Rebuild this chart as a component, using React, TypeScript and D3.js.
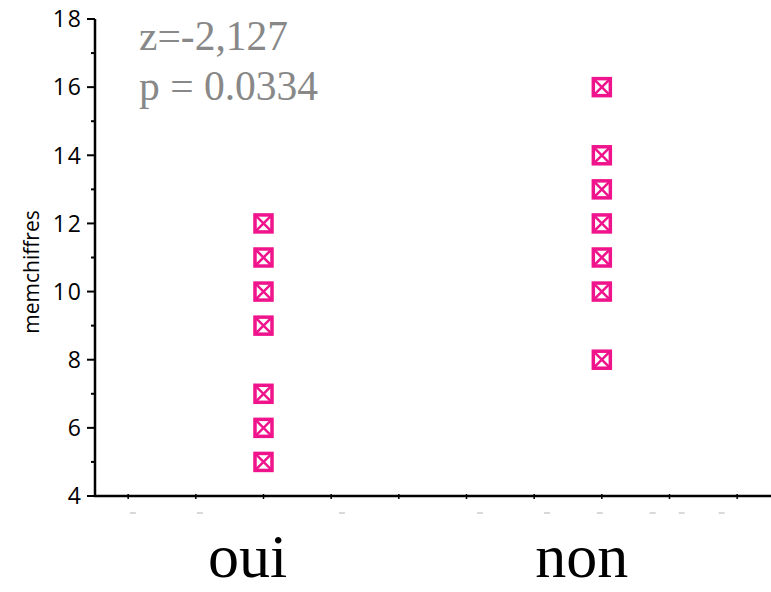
import React from "react";
import * as d3 from "d3";

const categories = ["oui", "non"];
const categoryPos = [2, 7];
const ouiValues = [12, 11, 10, 9, 7, 6, 5];
const nonValues = [16, 14, 13, 12, 11, 10, 8];
const yTicks = [4, 6, 8, 10, 12, 14, 16, 18];
const yMinorTicks = [5, 7, 9, 11, 13, 15, 17];
const xTicks = [0, 1, 2, 3, 4, 5, 6, 7, 8, 9];
const ghostMarks = [0.07, 1.06, 3.16, 5.2, 6.19, 6.97, 7.75, 8.18, 8.77];
const annotations = ["z=-2,127", "p = 0.0334"];

const W = 771;
const H = 592;
const PINK = "#f0148c";

export default function App() {
  const x = d3.scaleLinear().domain([-0.49, 9.5]).range([95, 771]);
  const y = d3.scaleLinear().domain([4, 18]).range([496, 19]);
  const series = [ouiValues, nonValues];
  const ms = 17;
  return (
    <svg width={W} height={H} style={{ position: "absolute", left: 0, top: 0 }}>
      <rect width={W} height={H} fill="#fff" />
      {ghostMarks.map((g, i) => (
        <line key={"g" + i} x1={x(g) - 3} x2={x(g) + 3} y1={513} y2={513} stroke="#ccc" strokeWidth={1.5} />
      ))}
      <line x1={95} x2={95} y1={y(18)} y2={y(4) + 1} stroke="#000" strokeWidth={2.5} />
      {yTicks.map((t) => (
        <g key={"yt" + t}>
          <line x1={87} x2={95} y1={y(t)} y2={y(t)} stroke="#000" strokeWidth={2} />
          <text x={83} y={y(t)} dy="0.36em" textAnchor="end" letterSpacing={2} fontFamily="'Open Sans', 'DejaVu Sans', sans-serif" fontSize={23} fill="#000">
            {t}
          </text>
        </g>
      ))}
      {yMinorTicks.map((t) => (
        <line key={"ym" + t} x1={91} x2={95} y1={y(t)} y2={y(t)} stroke="#000" strokeWidth={2} />
      ))}
      <text transform={`translate(39,272) rotate(-90)`} textAnchor="middle" fontFamily="'Open Sans', 'DejaVu Sans', sans-serif" fontSize={21} fill="#000">
        memchiffres
      </text>
      <line x1={94} x2={771} y1={496} y2={496} stroke="#000" strokeWidth={2.5} />
      {xTicks.map((t) => (
        <line key={"xt" + t} x1={x(t)} x2={x(t)} y1={494} y2={499} stroke="#000" strokeWidth={1.5} />
      ))}
      {series.map((vals, si) =>
        vals.map((v, i) => {
          const cx = x(categoryPos[si]);
          const cy = y(v);
          const h = ms / 2;
          return (
            <g key={`p${si}-${i}`}>
              <rect x={cx - h} y={cy - h} width={ms} height={ms} fill="#fff" stroke={PINK} strokeWidth={3.5} />
              <line x1={cx - h} y1={cy - h} x2={cx + h} y2={cy + h} stroke={PINK} strokeWidth={2.5} />
              <line x1={cx + h} y1={cy - h} x2={cx - h} y2={cy + h} stroke={PINK} strokeWidth={2.5} />
            </g>
          );
        })
      )}
      {annotations.map((a, i) => (
        <text key={"a" + i} x={139} y={50 + i * 50} fontFamily="'Liberation Serif', 'Times New Roman', serif" fontSize={41.5} fill="#888">
          {a}
        </text>
      ))}
      {categories.map((c, i) => (
        <text key={c} x={x(categoryPos[i]) - (i === 0 ? 16 : 20)} y={577} textAnchor="middle" fontFamily="'Liberation Serif', 'Times New Roman', serif" fontSize={62} fill="#000">
          {c}
        </text>
      ))}
    </svg>
  );
}
